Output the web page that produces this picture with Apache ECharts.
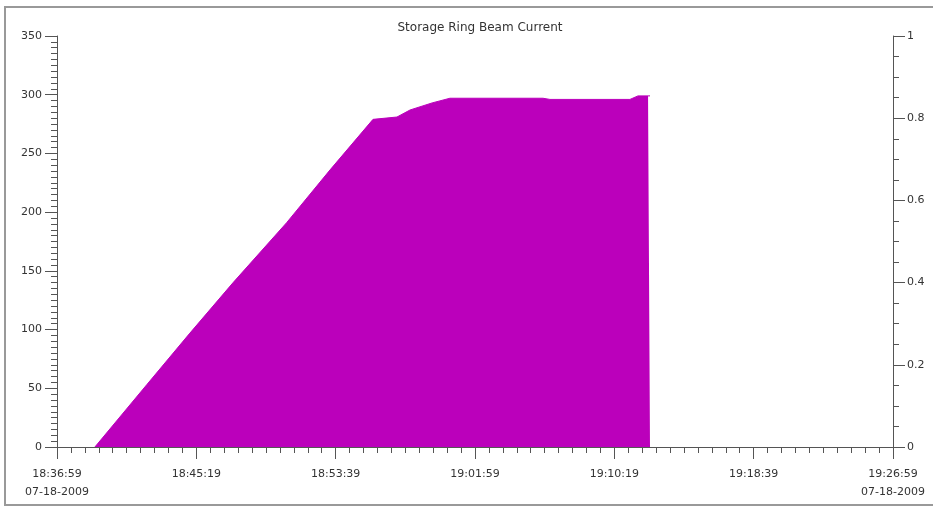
<!DOCTYPE html>
<html>
<head>
<meta charset="utf-8">
<script src="https://cdn.jsdelivr.net/npm/echarts@6/dist/echarts.min.js"></script>
<style>html,body{margin:0;padding:0;background:#fff;}#c{width:933px;height:511px;}</style>
</head>
<body>
<div id="c"></div>
<script>
// Data
var startTime = "18:36:59";
var endTime = "19:26:59";
var dateLabel = "07-18-2009";
var times = ["18:39:15","18:42:21","18:44:56","18:47:31","18:50:43","18:53:19","18:55:53","18:57:19","18:58:06","18:59:25","19:00:29","19:06:03","19:06:28","19:11:15","19:11:44","19:12:20","19:12:27"];
var current = [0,53,97,140,191,236,279,281,287,293,297,297,296,296,299,299,299];
var leftTicks = [0,350,50];
var rightTicks = [0,1,0.2];

function toSec(s){var p=s.split(':');return (+p[0])*3600+(+p[1])*60+(+p[2]);}
var base = toSec(startTime);
var span = toSec(endTime) - base;
function fmt(v){
  var t = base + Math.round(v);
  var h = Math.floor(t/3600), m = Math.floor((t%3600)/60), s = t%60;
  function p(n){return (n<10?'0':'')+n;}
  return p(h)+':'+p(m)+':'+p(s);
}
var seriesData = times.map(function(t,i){return [toSec(t)-base, current[i]];});

var chart = echarts.init(document.getElementById('c'));
var axisCol = '#555';
var txtCol = '#333';
var font = 'DejaVu Sans, Liberation Sans, sans-serif';
chart.setOption({
  animation:false,
  backgroundColor:'#fff',
  title:{text:'Storage Ring Beam Current',left:475,textAlign:'center',top:17,
    textStyle:{fontSize:12,fontWeight:'normal',color:txtCol,fontFamily:font}},
  graphic:[{type:'rect',shape:{x:5,y:7,width:940,height:498},style:{fill:'none',stroke:'#999',lineWidth:2},silent:true}],
  grid:{left:57,right:40,top:36,bottom:64},
  xAxis:{type:'value',min:0,max:span,interval:500,
    axisLine:{lineStyle:{color:axisCol,width:1}},
    axisTick:{length:12,lineStyle:{color:axisCol}},
    minorTick:{show:true,splitNumber:10,length:6,lineStyle:{color:axisCol}},
    splitLine:{show:false},
    axisLabel:{color:txtCol,fontSize:11,fontFamily:font,margin:18,lineHeight:18,showMinLabel:true,showMaxLabel:true,
      formatter:function(v){var s=fmt(v);if(v===0||v===span)s+='\n'+dateLabel;return s;}}},
  yAxis:[{type:'value',min:leftTicks[0],max:leftTicks[1],interval:leftTicks[2],position:'left',
    axisLine:{show:true,lineStyle:{color:axisCol}},
    axisTick:{show:true,length:12,lineStyle:{color:axisCol}},
    minorTick:{show:true,splitNumber:10,length:6,lineStyle:{color:axisCol}},
    splitLine:{show:false},
    axisLabel:{color:txtCol,fontSize:11,fontFamily:font,margin:15}},
   {type:'value',min:rightTicks[0],max:rightTicks[1],interval:rightTicks[2],position:'right',
    axisLine:{show:true,lineStyle:{color:axisCol}},
    axisTick:{show:true,length:12,lineStyle:{color:axisCol}},
    minorTick:{show:true,splitNumber:4,length:6,lineStyle:{color:axisCol}},
    splitLine:{show:false},
    axisLabel:{color:txtCol,fontSize:11,fontFamily:font,margin:14,
      formatter:function(v){return String(+v.toFixed(1));}}}],
  series:[{type:'line',data:seriesData,yAxisIndex:0,showSymbol:false,
    lineStyle:{color:'#bb00bb',width:1},
    areaStyle:{color:'#bb00bb',opacity:1}}]
});
</script>
</body>
</html>
